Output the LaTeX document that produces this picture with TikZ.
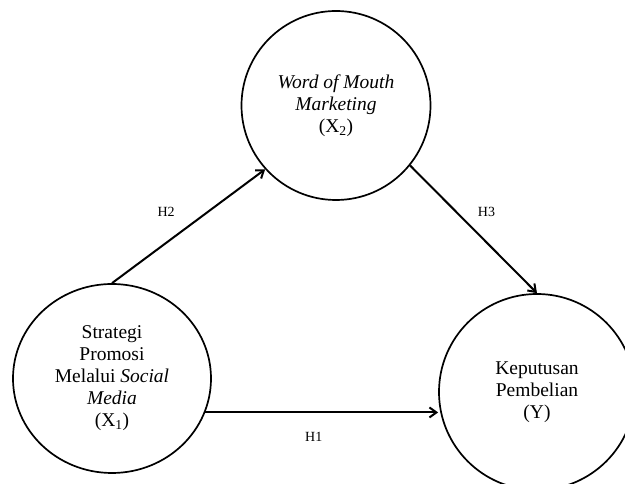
\documentclass[tikz,border=0pt]{standalone}
\usepackage{fontspec}
\setmainfont{Liberation Serif}
\usetikzlibrary{shapes.geometric,arrows.meta}

\begin{document}
\begin{tikzpicture}[->,>={Straight Barb[length=7pt,width=10pt]},node distance=425pt,auto,line width=2pt,
	var/.style={draw,line width=1.7pt,align=center,inner sep=0pt,font=\fontsize{19.5}{22}\selectfont},
	hyp/.style={anchor=center,inner sep=0pt,font=\fontsize{14}{16}\selectfont}]

\useasboundingbox(-112pt,-105.5pt)rectangle(513pt,378.5pt);

\node[var,ellipse,minimum width=198pt,minimum height=189pt](X1){Strategi\\Promosi\\Melalui \textit{Social}\\\textit{Media}\\(X\textsubscript{1})};
\node[var,circle,minimum size=196pt](Y)[right of=X1,yshift=-13.5pt]{Keputusan\\Pembelian\\(Y)};
\node[var,circle,minimum size=189pt,node distance=275pt](X2)[above of=X1,xshift=224pt,yshift=-2pt]{\textit{Word of Mouth}\\\textit{Marketing}\\(X\textsubscript{2})};

\path(X1.north)edge node[hyp,xshift=-22.5pt,yshift=14pt]{H2}(X2.222)
	(X2.-39)edge node[hyp,xshift=13pt,yshift=17.5pt]{H3}(Y.north)
	(X1.-20)edge node[hyp,xshift=-8pt,yshift=-24pt]{H1}(X1.-20-|Y.west);

\end{tikzpicture}
\end{document}
